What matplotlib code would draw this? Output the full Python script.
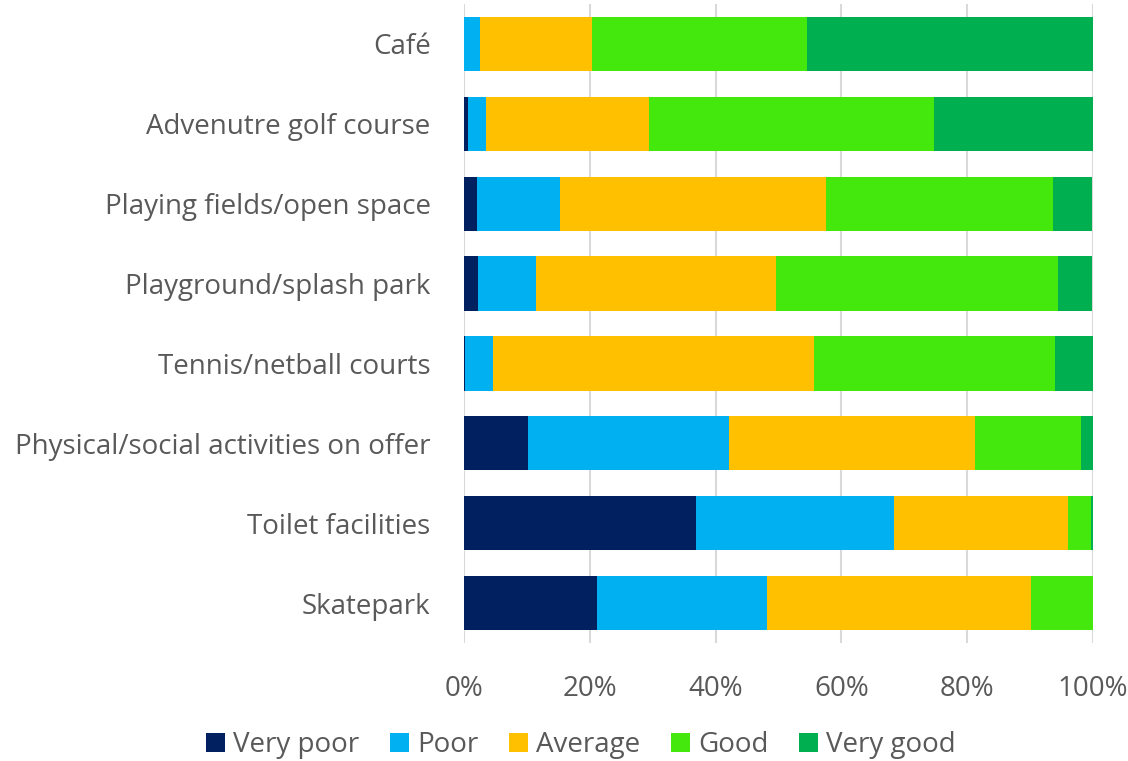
import matplotlib.pyplot as plt
import numpy as np

# Satisfaction ratings per facility, in percent
categories = ["Café", "Advenutre golf course", "Playing fields/open space",
              "Playground/splash park", "Tennis/netball courts",
              "Physical/social activities on offer", "Toilet facilities", "Skatepark"]
very_poor = [0.0, 0.6, 2.1, 2.3, 0.1, 10.2, 36.9, 21.1]
poor = [2.5, 2.85, 13.1, 9.1, 4.5, 31.9, 31.4, 27.0]
average = [17.8, 25.9, 42.3, 38.2, 51.1, 39.2, 27.8, 42.0]
good = [34.2, 45.3, 36.2, 44.8, 38.2, 16.8, 3.6, 9.9]
very_good = [45.5, 25.35, 6.2, 5.5, 6.1, 1.9, 0.35, 0.0]

series = [("Very poor", very_poor, "#002060"),
          ("Poor", poor, "#00B0F0"),
          ("Average", average, "#FFC000"),
          ("Good", good, "#45E80C"),
          ("Very good", very_good, "#00B050")]

plt.rcParams['font.family'] = ['Open Sans', 'DejaVu Sans']
text_color = "#595959"

fig = plt.figure(figsize=(11.28, 7.61), dpi=100)
ax = fig.add_axes([464 / 1128, 1 - 643 / 761, (1093 - 464) / 1128, 639 / 761])

y = np.arange(len(categories))
left = np.zeros(len(categories))
for name, vals, color in series:
    vals = np.array(vals)
    ax.barh(y, vals, left=left, height=0.68, color=color, label=name, zorder=3)
    left += vals

ax.set_ylim(len(categories) - 0.5, -0.5)
ax.set_xlim(0, 100)
ax.set_xticks(np.arange(0, 101, 20))
ax.set_xticklabels([f"{v}%" for v in range(0, 101, 20)])
ax.set_yticks(y)
ax.set_yticklabels(categories)
ax.grid(axis="x", color="#D9D9D9", linewidth=1.5, zorder=0)
for s in ax.spines.values():
    s.set_visible(False)
ax.tick_params(axis="both", length=0, labelsize=20, colors=text_color)
ax.tick_params(axis="y", pad=24)
ax.tick_params(axis="x", pad=23)

fig.legend(loc="center", bbox_to_anchor=(0.515, 1 - 745 / 761), ncol=5, frameon=False,
           fontsize=20, labelcolor=text_color, handlelength=0.68, handleheight=0.68,
           handletextpad=0.3, columnspacing=1.1)

fig.savefig("out.png", dpi=100)
